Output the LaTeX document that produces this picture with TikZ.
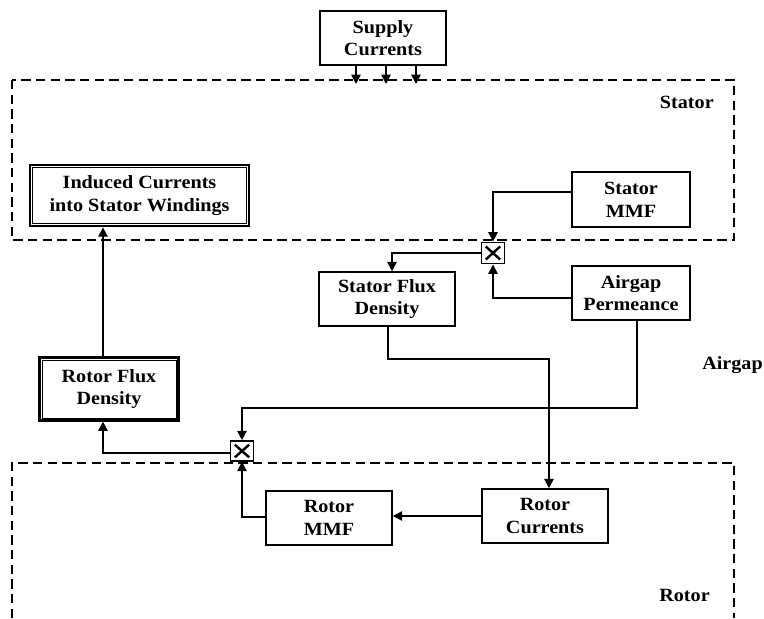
\documentclass[tikz,border=0pt]{standalone}
\usepackage{fontspec}
\setmainfont{Liberation Serif}[FakeStretch=1.08]
\usetikzlibrary{arrows.meta}
\begin{document}
\begin{tikzpicture}[x=0.75pt,y=-0.75pt,
  font=\fontsize{14}{17}\selectfont\bfseries,
  box/.style={draw,line width=1.2pt,align=center,inner sep=0pt},
  dbox/.style={draw,line width=1.8pt,align=center,inner sep=0pt},
  mult/.style={draw,line width=1.2pt,inner sep=0pt,minimum width=17pt,minimum height=16pt},
  conn/.style={line width=1.2pt},
  arr/.style={conn,-{Triangle[length=7pt,width=7pt]}},
  region/.style={dash pattern=on 7pt off 4pt,line width=1pt},
  lbl/.style={inner sep=0pt}]
\useasboundingbox (0,0) rectangle (764,618);
% regions
\draw[region] (12,80) rectangle (734,240);
\draw[region] (12,618) -- (12,463) -- (734,463) -- (734,618);
% labels
\node[lbl,anchor=east] (lstator) at (714,102) {Stator};
\node[lbl,anchor=east] (lairgap) at (763,365) {Airgap};
\node[lbl,anchor=east] (lrotor) at (710,595) {Rotor};
% boxes
\node[box,minimum width=94.5pt,minimum height=40.5pt] (sc) at (383,38) {Supply\\Currents};
\node[dbox,minimum width=164pt,minimum height=46pt] (ind) at (139.5,195.5) {Induced Currents\\into Stator Windings};
\draw[line width=0.7pt] ([shift={(3.5,3.5)}]ind.north west) rectangle ([shift={(-3.5,-3.5)}]ind.south east);
\node[box,minimum width=88.5pt,minimum height=41pt] (smmf) at (631,199.5) {Stator\\MMF};
\node[box,minimum width=88.5pt,minimum height=40.5pt] (ap) at (631,293) {Airgap\\Permeance};
\node[box,minimum width=102pt,minimum height=40.5pt] (sfd) at (387,299) {Stator Flux\\Density};
\node[dbox,minimum width=104pt,minimum height=47pt] (rfd) at (109,389) {Rotor Flux\\Density};
\draw[line width=0.7pt] ([shift={(3.5,3.5)}]rfd.north west) rectangle ([shift={(-3.5,-3.5)}]rfd.south east);
\node[box,minimum width=94.5pt,minimum height=40.5pt] (rmmf) at (329,518) {Rotor\\MMF};
\node[box,minimum width=94.5pt,minimum height=40.5pt] (rc) at (545,516) {Rotor\\Currents};
\node[mult] (m1) at (493,253) {};
\draw[line width=1.8pt] ([shift={(5,5)}]m1.north west) -- ([shift={(-5,-5)}]m1.south east);
\draw[line width=1.8pt] ([shift={(-5,5)}]m1.north east) -- ([shift={(5,-5)}]m1.south west);
\node[mult,minimum height=15pt] (m2) at (242,451) {};
\draw[line width=1.8pt] ([shift={(5,4.5)}]m2.north west) -- ([shift={(-5,-4.5)}]m2.south east);
\draw[line width=1.8pt] ([shift={(-5,4.5)}]m2.north east) -- ([shift={(5,-4.5)}]m2.south west);
% supply arrows
\coordinate (s1) at (356,84);
\coordinate (s2) at (386,84);
\coordinate (s3) at (416,84);
\draw[arr] (s1 |- sc.south) -- (s1);
\draw[arr] (s2 |- sc.south) -- (s2);
\draw[arr] (s3 |- sc.south) -- (s3);
% connectors
\coordinate (p1) at (493,192);
\draw[arr] (p1 -| smmf.west) -- (p1) -- (m1.north);
\coordinate (p2) at (493,298);
\draw[arr] (p2 -| ap.west) -- (p2) -- (m1.south);
\coordinate (p3) at (392,253);
\draw[arr] (m1.west) -- (p3) -- (p3 |- sfd.north);
\coordinate (p4) at (388,359);
\coordinate (p5) at (549,359);
\draw[arr] (p4 |- sfd.south) -- (p4) -- (p5) -- (p5 |- rc.north);
\coordinate (p6) at (637,408);
\coordinate (p7) at (242,408);
\draw[arr] (p6 |- ap.south) -- (p6) -- (p7) -- (m2.north);
\coordinate (p8) at (103,453);
\draw[arr] (p8 -| m2.west) -- (p8) -- (p8 |- rfd.south);
\draw[arr] (p8 |- rfd.north) -- (p8 |- ind.south);
\draw[arr] (rc.west) -- (rc.west -| rmmf.east);
\coordinate (p9) at (242,517);
\draw[arr] (p9 -| rmmf.west) -- (p9) -- (m2.south);
\end{tikzpicture}
\end{document}
